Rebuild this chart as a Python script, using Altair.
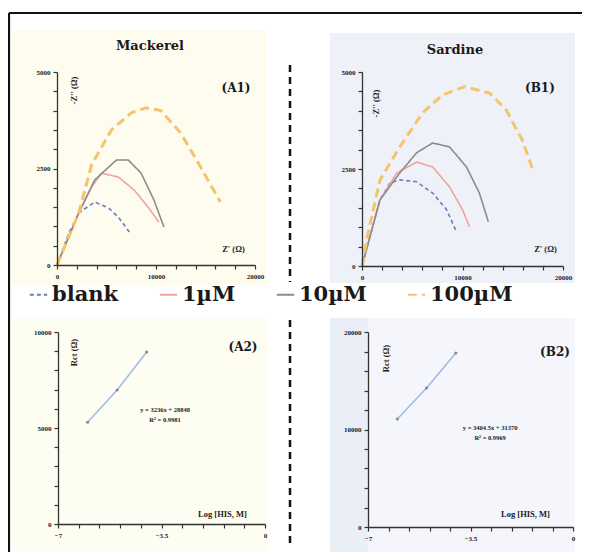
import altair as alt
import pandas as pd

W, H = 574, 544

# ---------------- data ----------------
series = ["blank", "1µM", "10µM", "100µM"]
series_colors = ["#6b7cba", "#f0a49c", "#8c8c8c", "#f4c36c"]
series_dash = [[4, 3], [1, 0], [1, 0], [9, 5]]

# (A1) Mackerel Nyquist plots: Z' (ohm) and -Z'' (ohm)
a1_blank_x = [0, 1200, 2200, 3800, 5200, 6200, 7300]
a1_blank_y = [0, 830, 1350, 1630, 1480, 1240, 855]
a1_1uM_x = [0, 2200, 3500, 4500, 6200, 7800, 9200, 10300]
a1_1uM_y = [0, 1350, 2020, 2380, 2280, 1940, 1500, 1110]
a1_10uM_x = [0, 2200, 3800, 6000, 7200, 8500, 9800, 10800]
a1_10uM_y = [0, 1350, 2200, 2720, 2720, 2380, 1680, 985]
a1_100uM_x = [0, 2200, 3500, 5500, 7500, 9000, 10500, 12500, 14500, 16500]
a1_100uM_y = [0, 1350, 2600, 3500, 3940, 4070, 4000, 3420, 2540, 1630]

# (B1) Sardine Nyquist plots
b1_blank_x = [0, 1780, 2770, 3760, 5440, 7030, 8420, 9400]
b1_blank_y = [0, 1700, 2140, 2220, 2170, 1880, 1450, 880]
b1_1uM_x = [0, 1780, 3470, 5440, 7030, 8710, 10000, 10700]
b1_1uM_y = [0, 1700, 2400, 2680, 2550, 2040, 1450, 1010]
b1_10uM_x = [0, 1780, 3760, 5440, 7030, 8710, 10400, 11680, 12570]
b1_10uM_y = [0, 1700, 2400, 2920, 3170, 3070, 2550, 1880, 1140]
b1_100uM_x = [0, 600, 1800, 3760, 6040, 8020, 10200, 12670, 14350, 15940, 16930]
b1_100uM_y = [0, 850, 2220, 3070, 3950, 4410, 4620, 4460, 4020, 3250, 2530]

# (A2)/(B2) calibration: Log[HIS, M] vs Rct (ohm)
log_his = [-6, -5, -4]
a2_rct = [5300, 6980, 8960]
b2_rct = [11080, 14260, 17850]

a2_eq = ["y = 3236x + 28848", "R² = 0.9981"]
b2_eq = ["y = 3404.5x + 31370", "R² = 0.9969"]


def nyq_rows(items):
    out = []
    for name, xs, ys in items:
        for i, (x, y) in enumerate(zip(xs, ys)):
            out.append({"series": name, "i": i, "zr": x, "zi": y})
    return pd.DataFrame(out)


df_a1 = nyq_rows([("blank", a1_blank_x, a1_blank_y), ("1µM", a1_1uM_x, a1_1uM_y),
                  ("10µM", a1_10uM_x, a1_10uM_y), ("100µM", a1_100uM_x, a1_100uM_y)])
df_b1 = nyq_rows([("blank", b1_blank_x, b1_blank_y), ("1µM", b1_1uM_x, b1_1uM_y),
                  ("10µM", b1_10uM_x, b1_10uM_y), ("100µM", b1_100uM_x, b1_100uM_y)])
df_a2 = pd.DataFrame({"lx": log_his, "rct": a2_rct})
df_b2 = pd.DataFrame({"lx": log_his, "rct": b2_rct})

SERIF = "Liberation Serif"
BIG = "DejaVu Serif"


def axis(orient, offset, values, shown, title, tx, ty, angle=0):
    expr = "indexof(%s, datum.value) >= 0 ? datum.label : ''" % str(shown)
    return alt.Axis(orient=orient, offset=offset, values=values, labelExpr=expr,
                    format=".1~f", title=title, titleX=tx, titleY=ty, titleAngle=angle,
                    titleAlign="center", titleBaseline="middle", labelOverlap=False,
                    labelFlush=False, grid=False, domainColor="#333", domainWidth=1.3,
                    tickColor="#333", tickSize=4, tickWidth=1.2, labelFont=SERIF, labelFontSize=7,
                    labelFontWeight="bold", labelColor="#222", labelPadding=3,
                    titleFont=SERIF, titleFontSize=8.5, titleFontWeight="bold",
                    titleColor="#222", zindex=2)


def sc(domain, rng):
    return alt.Scale(domain=domain, range=rng, nice=False, zero=False)


legend = alt.Legend(title=None, orient="none", legendX=20, legendY=276, direction="horizontal",
                    columns=4, symbolType="stroke", symbolSize=300, symbolStrokeWidth=2.2,
                    labelFont=BIG, labelFontSize=21, labelFontWeight="bold", labelColor="#1a1a1a",
                    labelOffset=3, columnPadding=36, labelLimit=300)

# panel geometry (view pixels)
A1X, A1Y = [49, 247], [257, 64]
B1X, B1Y = [354, 555], [258, 64]
A2X, A2Y = [50, 257], [516, 324]
B2X, B2Y = [360, 565], [519, 324]

xt_z = list(range(0, 20001, 2000))
yt_z = list(range(0, 5001, 500))
xt_log = [-7, -6.3, -5.6, -4.9, -4.2, -3.5, -2.8, -2.1, -1.4, -0.7, 0]

one = alt.Data(values=[{"k": 1}])


def rect(x1, x2, y1, y2, color):
    return alt.Chart(one).mark_rect(color=color).encode(
        x=alt.value(x1), x2=alt.value(x2), y=alt.value(y1), y2=alt.value(y2))


bgs = [
    rect(4, 259, 22, 277, "#fdfcee"),
    rect(4, 259, 310, 544, "#fefdf2"),
    rect(322, 567, 25, 275, "#eff1f9"),
    rect(322, 567, 310, 544, "#f5f6fb"),
    rect(322, 360, 310, 544, "#e9eef7"),
]

frame = [
    alt.Chart(one).mark_rule(color="#111", strokeWidth=2.2).encode(
        x=alt.value(1), x2=alt.value(W), y=alt.value(5)),
    alt.Chart(one).mark_rule(color="#111", strokeWidth=2.2).encode(
        x=alt.value(1), y=alt.value(5), y2=alt.value(H)),
    alt.Chart(one).mark_rule(color="#111", strokeWidth=2.5, strokeDash=[7, 5]).encode(
        x=alt.value(282), y=alt.value(57), y2=alt.value(274)),
    alt.Chart(one).mark_rule(color="#111", strokeWidth=2.5, strokeDash=[7, 5]).encode(
        x=alt.value(282), y=alt.value(312), y2=alt.value(537)),
]


def nyquist(df, xr, yr, xt_title, yt_title):
    return alt.Chart(df).mark_line(strokeCap="butt").encode(
        x=alt.X("zr:Q", scale=sc([0, 20000], xr),
                axis=axis("bottom", yr[0] - H, xt_z, [0, 10000, 20000], "Z' (Ω)",
                          xt_title[0], xt_title[1])),
        y=alt.Y("zi:Q", scale=sc([0, 5000], yr),
                axis=axis("left", -xr[0], yt_z, [0, 2500, 5000], "-Z'' (Ω)",
                          yt_title[0], yt_title[1], 270)),
        color=alt.Color("series:N", scale=alt.Scale(domain=series, range=series_colors), legend=legend),
        strokeDash=alt.StrokeDash("series:N", scale=alt.Scale(domain=series, range=series_dash), legend=legend),
        strokeWidth=alt.condition(alt.datum.series == "100µM", alt.value(3), alt.value(1.6)),
        order="i:Q",
    )


def texts(df, xdom, xr, ydom, yr, size, font=SERIF, weight="bold", color="#1a1a1a"):
    return alt.Chart(df).mark_text(font=font, fontSize=size, fontWeight=weight, color=color,
                                   align="center", baseline="middle").encode(
        x=alt.X("x:Q", scale=sc(xdom, xr), axis=None),
        y=alt.Y("y:Q", scale=sc(ydom, yr), axis=None),
        text="t:N")


a1 = nyquist(df_a1, A1X, A1Y, (225, -17), (16, 82))
b1 = nyquist(df_b1, B1X, B1Y, (537, -18), (13, 95))

a1_txt = texts(pd.DataFrame({"x": [9390], "y": [5670], "t": ["Mackerel"]}), [0, 20000], A1X, [0, 5000], A1Y, 13, BIG)
a1_lab = texts(pd.DataFrame({"x": [18080], "y": [4585], "t": ["(A1)"]}), [0, 20000], A1X, [0, 5000], A1Y, 12, BIG)
b1_txt = texts(pd.DataFrame({"x": [9250], "y": [5570], "t": ["Sardine"]}), [0, 20000], B1X, [0, 5000], B1Y, 13, BIG)
b1_lab = texts(pd.DataFrame({"x": [17700], "y": [4590], "t": ["(B1)"]}), [0, 20000], B1X, [0, 5000], B1Y, 12, BIG)


def calib(df, xr, yr, ymax, yshown, xt_title, yt_title):
    yt = list(range(0, ymax + 1, ymax // 10))
    line = alt.Chart(df).mark_line(color="#9fbde6", strokeWidth=1.6).encode(
        x=alt.X("lx:Q", scale=sc([-7, 0], xr),
                axis=axis("bottom", yr[0] - H, xt_log, [-7, -3.5, 0], "Log [HIS, M]",
                          xt_title[0], xt_title[1])),
        y=alt.Y("rct:Q", scale=sc([0, ymax], yr),
                axis=axis("left", -xr[0], yt, yshown, "Rct (Ω)", yt_title[0], yt_title[1], 270)),
    )
    pts = alt.Chart(df).mark_point(filled=True, size=10, color="#8a8a8a", opacity=1).encode(
        x=alt.X("lx:Q", scale=sc([-7, 0], xr), axis=None),
        y=alt.Y("rct:Q", scale=sc([0, ymax], yr), axis=None),
    )
    return [line, pts]


a2 = calib(df_a2, A2X, A2Y, 10000, [0, 5000, 10000], (214, -11), (15, 344))
b2 = calib(df_b2, B2X, B2Y, 20000, [0, 10000, 20000], (517, -14), (17, 350))

a2_lab = texts(pd.DataFrame({"x": [-0.744], "y": [9220], "t": ["(A2)"]}), [-7, 0], A2X, [0, 10000], A2Y, 12, BIG)
a2_eqt = texts(pd.DataFrame({"x": [-3.38, -3.38], "y": [5940, 5420], "t": a2_eq}), [-7, 0], A2X, [0, 10000], A2Y, 6.5)
b2_lab = texts(pd.DataFrame({"x": [-0.615], "y": [17950], "t": ["(B2)"]}), [-7, 0], B2X, [0, 20000], B2Y, 12, BIG)
b2_eqt = texts(pd.DataFrame({"x": [-2.83, -2.83], "y": [10150, 9130], "t": b2_eq}), [-7, 0], B2X, [0, 20000], B2Y, 6.5)

chart = alt.layer(
    *bgs, *frame,
    a1, b1, a1_txt, a1_lab, b1_txt, b1_lab,
    *a2, *b2, a2_lab, a2_eqt, b2_lab, b2_eqt,
).resolve_scale(
    x="independent", y="independent"
).resolve_axis(
    x="independent", y="independent"
).properties(
    width=W, height=H, padding=0, background="white",
    autosize=alt.AutoSizeParams(type="none"),
).configure_view(stroke=None)

chart.save("out.html", embed_options={"renderer": "svg", "actions": False})
